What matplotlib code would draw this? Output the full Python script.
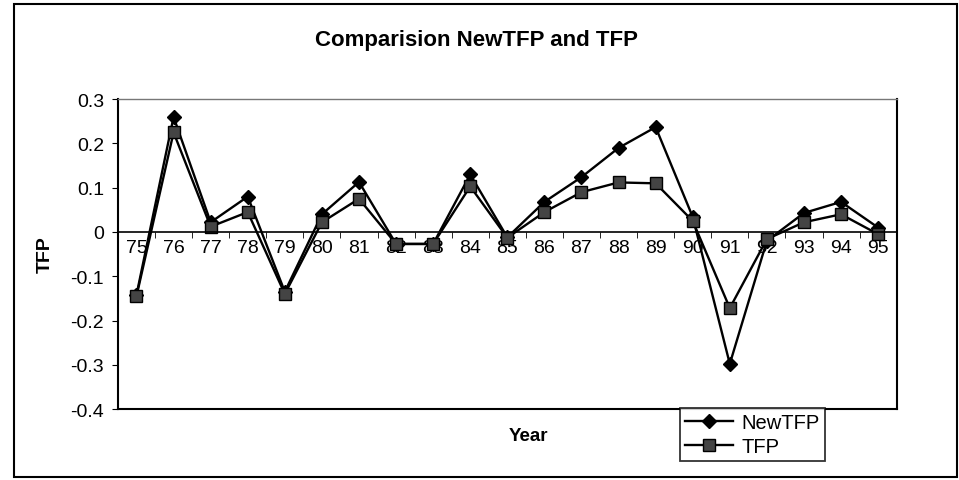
"""
Comparision of NewTFP and TFP by year (Excel style line chart).
"""

import numpy as np
import matplotlib.pyplot as plt
from matplotlib.patches import Rectangle

# ──────────────────────────────────────────────
# Data
# ──────────────────────────────────────────────
years = ["75", "76", "77", "78", "79", "80", "81", "82", "83", "84", "85",
         "86", "87", "88", "89", "90", "91", "92", "93", "94", "95"]
new_tfp = [-0.142, 0.26, 0.022, 0.08, -0.135, 0.04, 0.113, -0.027, -0.027,
           0.13, -0.012, 0.068, 0.124, 0.19, 0.237, 0.034, -0.298, -0.02,
           0.043, 0.068, 0.01]
tfp = [-0.145, 0.225, 0.012, 0.045, -0.14, 0.022, 0.075, -0.027, -0.027,
       0.103, -0.013, 0.045, 0.09, 0.112, 0.11, 0.025, -0.172, -0.016,
       0.022, 0.04, -0.005]
y_ticks = [-0.4, -0.3, -0.2, -0.1, 0, 0.1, 0.2, 0.3]
y_tick_labels = ["-0.4", "-0.3", "-0.2", "-0.1", "0", "0.1", "0.2", "0.3"]

plt.rcParams["font.family"] = ["Liberation Sans", "DejaVu Sans"]

fig = plt.figure(figsize=(9.59, 4.81), dpi=100)
ax = fig.add_axes([0.123, 0.1476, 0.812, 0.644])

x = np.arange(len(years))
ax.plot(x, new_tfp, color="black", linewidth=1.7, marker="D", markersize=7,
        markerfacecolor="black", markeredgecolor="black", label="NewTFP")
ax.plot(x, tfp, color="black", linewidth=1.7, marker="s", markersize=8,
        markerfacecolor="#444444", markeredgecolor="black", label="TFP")

ax.set_xlim(-0.5, len(years) - 0.5)
ax.set_ylim(-0.4, 0.3)

# category axis crosses at zero
ax.spines["bottom"].set_position(("data", 0))
ax.spines["bottom"].set_linewidth(1.2)
ax.spines["left"].set_linewidth(1.5)
ax.spines["right"].set_linewidth(1.5)
ax.spines["top"].set_linewidth(1.0)
ax.spines["top"].set_color("#777777")
ax.axhline(-0.4, color="black", linewidth=1.5, clip_on=False)

ax.set_xticks(x)
ax.set_xticklabels(years, fontsize=14)
ax.set_xticks(np.arange(-0.5, len(years)), minor=True)
ax.tick_params(axis="x", which="major", length=0, pad=5)
ax.tick_params(axis="x", which="minor", length=4, direction="out")

ax.set_yticks(y_ticks)
ax.set_yticklabels(y_tick_labels, fontsize=14)
ax.tick_params(axis="y", length=4, direction="out", pad=6)

ax.set_ylabel("TFP", fontsize=14, fontweight="bold", labelpad=12)
fig.text(0.551, 0.092, "Year", fontsize=13.5, fontweight="bold",
         ha="center", va="center")

fig.text(0.497, 0.915, "Comparision NewTFP and TFP", fontsize=16,
         fontweight="bold", ha="center", va="center")

leg = fig.legend(loc="upper left", bbox_to_anchor=(0.709, 0.150),
                 fontsize=14.5, frameon=True, fancybox=False, borderpad=0.25,
                 handlelength=2.4, handletextpad=0.4, labelspacing=0.25,
                 borderaxespad=0)
leg.get_frame().set_edgecolor("black")
leg.get_frame().set_linewidth(1.3)

# outer chart border
fig.patches.append(Rectangle((0.0146, 0.006), 0.983, 0.984,
                             transform=fig.transFigure, fill=False,
                             edgecolor="black", linewidth=1.5))

fig.savefig("out.png", dpi=100)
